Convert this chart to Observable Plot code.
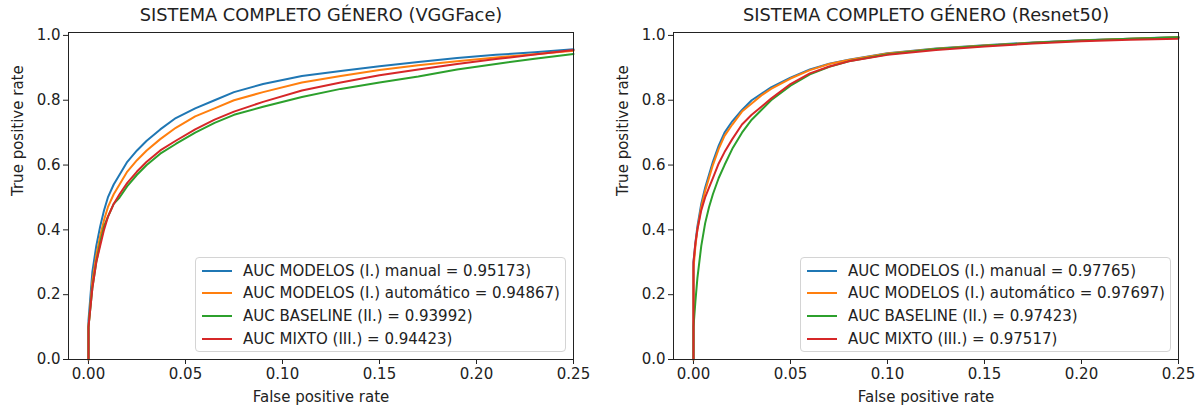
<!DOCTYPE html>
<html><head><meta charset="utf-8">
<script src="https://cdn.jsdelivr.net/npm/d3@7"></script>
<script src="https://cdn.jsdelivr.net/npm/@observablehq/plot@0.6"></script>
<style>
body{margin:0;background:#fff;font-family:"DejaVu Sans",sans-serif;}
#wrap{position:relative;width:1201px;height:409px;overflow:hidden;}
.panel{position:absolute;top:0;}
.legend{position:absolute;box-sizing:border-box;border:1px solid #d4d4d4;border-radius:4px;background:rgba(255,255,255,0.8);font-size:15px;color:#222;}
.item{position:absolute;left:0;height:20px;white-space:nowrap;}
.sw{position:absolute;left:6px;width:30px;height:2px;top:9px;}
.tx{position:absolute;left:47px;top:0;line-height:20px;}
</style>
</head><body>
<div id="wrap"></div>
<script>
// ---- data ----
const colors = ["#1f77b4", "#ff7f0e", "#2ca02c", "#d62728"];
const xTicks = [0, 0.05, 0.10, 0.15, 0.20, 0.25];
const yTicks = [0, 0.2, 0.4, 0.6, 0.8, 1.0];

const vggTitle = "SISTEMA COMPLETO GÉNERO (VGGFace)";
const vggLabels = [
  "AUC MODELOS (I.) manual = 0.95173)",
  "AUC MODELOS (I.) automático = 0.94867)",
  "AUC BASELINE (II.) = 0.93992)",
  "AUC MIXTO (III.) = 0.94423)"
];
const vggFpr = [0, 0, 0.002, 0.004, 0.006, 0.008, 0.01, 0.013, 0.016, 0.02, 0.025, 0.03, 0.037, 0.045, 0.055, 0.065, 0.075, 0.09, 0.11, 0.13, 0.15, 0.17, 0.19, 0.21, 0.23, 0.25];
const vggManual = [0, 0.12, 0.27, 0.35, 0.41, 0.46, 0.50, 0.54, 0.57, 0.61, 0.645, 0.675, 0.71, 0.745, 0.775, 0.80, 0.825, 0.85, 0.875, 0.89, 0.905, 0.918, 0.93, 0.94, 0.948, 0.957];
const vggAuto = [0, 0.10, 0.24, 0.32, 0.38, 0.43, 0.47, 0.51, 0.54, 0.58, 0.615, 0.645, 0.68, 0.715, 0.75, 0.775, 0.80, 0.825, 0.855, 0.875, 0.893, 0.908, 0.92, 0.932, 0.942, 0.953];
const vggBaseline = [0, 0.10, 0.22, 0.30, 0.36, 0.41, 0.44, 0.48, 0.50, 0.535, 0.57, 0.60, 0.635, 0.665, 0.70, 0.73, 0.755, 0.78, 0.81, 0.835, 0.855, 0.873, 0.895, 0.912, 0.928, 0.943];
const vggMixto = [0, 0.10, 0.22, 0.30, 0.35, 0.40, 0.44, 0.48, 0.51, 0.545, 0.58, 0.61, 0.645, 0.675, 0.71, 0.74, 0.765, 0.795, 0.83, 0.855, 0.877, 0.895, 0.912, 0.927, 0.941, 0.955];

const resTitle = "SISTEMA COMPLETO GÉNERO (Resnet50)";
const resLabels = [
  "AUC MODELOS (I.) manual = 0.97765)",
  "AUC MODELOS (I.) automático = 0.97697)",
  "AUC BASELINE (II.) = 0.97423)",
  "AUC MIXTO (III.) = 0.97517)"
];
const resFpr = [0, 0, 0.001, 0.002, 0.004, 0.006, 0.008, 0.01, 0.013, 0.016, 0.02, 0.025, 0.03, 0.035, 0.04, 0.05, 0.06, 0.07, 0.08, 0.1, 0.125, 0.15, 0.175, 0.2, 0.225, 0.25];
const resManual = [0, 0.30, 0.36, 0.41, 0.48, 0.53, 0.57, 0.61, 0.66, 0.70, 0.735, 0.77, 0.80, 0.82, 0.84, 0.87, 0.895, 0.913, 0.925, 0.945, 0.96, 0.97, 0.978, 0.985, 0.99, 0.995];
const resAuto = [0, 0.28, 0.35, 0.40, 0.47, 0.52, 0.56, 0.60, 0.65, 0.69, 0.725, 0.765, 0.79, 0.815, 0.835, 0.867, 0.893, 0.912, 0.924, 0.944, 0.959, 0.969, 0.977, 0.984, 0.99, 0.994];
const resBaseline = [0, 0.10, 0.18, 0.25, 0.35, 0.42, 0.47, 0.51, 0.56, 0.60, 0.65, 0.70, 0.74, 0.77, 0.80, 0.845, 0.88, 0.903, 0.92, 0.942, 0.958, 0.968, 0.977, 0.984, 0.99, 0.994];
const resMixto = [0, 0.30, 0.36, 0.40, 0.46, 0.50, 0.53, 0.56, 0.605, 0.64, 0.68, 0.725, 0.755, 0.78, 0.805, 0.85, 0.883, 0.904, 0.92, 0.94, 0.955, 0.966, 0.975, 0.982, 0.987, 0.99];

// ---- drawing ----
const wrap = document.getElementById("wrap");

function panel({left, width, ml, mr, title, labels, fpr, series}) {
  const data = [];
  series.forEach((tpr, i) => tpr.forEach((t, j) => data.push({s: labels[i], fpr: fpr[j], tpr: t})));
  const chart = Plot.plot({
    width, height: 409,
    marginLeft: ml, marginRight: mr, marginTop: 32, marginBottom: 50,
    style: {fontFamily: "DejaVu Sans", fontSize: "15px", color: "#222", background: "transparent"},
    x: {domain: [-0.0103, 0.25], ticks: xTicks, tickFormat: d3.format(".2f"), label: null, tickSize: 5, tickPadding: 4},
    y: {domain: [0, 1.009], ticks: yTicks, tickFormat: d3.format(".1f"), label: null, tickSize: 5, tickPadding: 3},
    color: {domain: labels, range: colors},
    marks: [
      Plot.line(data, {x: "fpr", y: "tpr", z: "s", stroke: "s", strokeWidth: 2}),
      Plot.frame({stroke: "#222", strokeWidth: 1}),
      Plot.text([title], {text: d => d, frameAnchor: "top", dy: -17, lineAnchor: "middle", fontSize: 17.8, fill: "#222"}),
      Plot.text(["False positive rate"], {text: d => d, frameAnchor: "bottom", dy: 38, lineAnchor: "middle", fontSize: 15, fill: "#222"}),
      Plot.text(["True positive rate"], {text: d => d, frameAnchor: "left", dx: -50, rotate: -90, lineAnchor: "middle", fontSize: 15, fill: "#222"})
    ]
  });
  chart.classList.add("panel");
  chart.style.left = left + "px";
  wrap.appendChild(chart);

  // legend box (lower right inside frame)
  const frameRight = left + width - mr;
  const lg = document.createElement("div");
  lg.className = "legend";
  lg.style.left = (frameRight - 7 - 371) + "px";
  lg.style.top = "257px";
  lg.style.width = "371px";
  lg.style.height = "95px";
  const ys = [13, 35, 58, 81];
  labels.forEach((lab, i) => {
    const it = document.createElement("div");
    it.className = "item";
    it.style.top = (ys[i] - 10) + "px";
    const sw = document.createElement("div");
    sw.className = "sw";
    sw.style.background = colors[i];
    const tx = document.createElement("div");
    tx.className = "tx";
    tx.textContent = lab;
    it.appendChild(sw); it.appendChild(tx);
    lg.appendChild(it);
  });
  wrap.appendChild(lg);
}

panel({left: 0, width: 600, ml: 68, mr: 27, title: vggTitle, labels: vggLabels, fpr: vggFpr,
  series: [vggManual, vggAuto, vggBaseline, vggMixto]});
panel({left: 600, width: 601, ml: 73, mr: 23, title: resTitle, labels: resLabels, fpr: resFpr,
  series: [resManual, resAuto, resBaseline, resMixto]});
</script>
</body></html>
